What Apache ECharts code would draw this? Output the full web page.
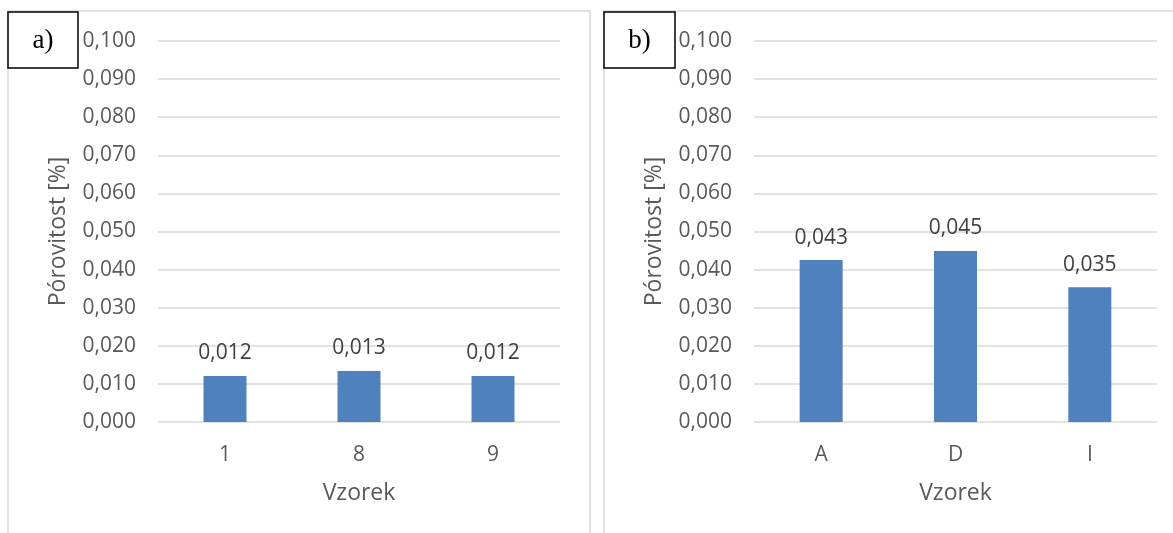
<!DOCTYPE html>
<html><head><meta charset="utf-8">
<script src="https://cdn.jsdelivr.net/npm/echarts@6/dist/echarts.min.js"></script>
<style>html,body{margin:0;padding:0;background:#fff}#c{width:1173px;height:533px}</style>
</head><body><div id="c"></div>
<script>
const categoriesA = ['1', '8', '9'];
const valuesA = [0.0121, 0.0134, 0.0121];
const categoriesB = ['A', 'D', 'I'];
const valuesB = [0.0425, 0.0449, 0.0354];
const yTicks = { min: 0, max: 0.1, interval: 0.01 };
const yName = 'Pórovitost [%]';
const xName = 'Vzorek';
const panelLabels = ['a)', 'b)'];

const fmt = v => v.toFixed(3).replace('.', ',');
const FONT = 'Open Sans';

function xAxis(idx, cats) {
  return {
    type: 'category', gridIndex: idx, data: cats,
    axisLine: { show: false }, axisTick: { show: false },
    axisLabel: { color: '#595959', fontSize: 21, fontFamily: FONT, margin: 23 },
    name: xName, nameLocation: 'middle', nameGap: 60,
    nameTextStyle: { color: '#595959', fontSize: 23, fontFamily: FONT }
  };
}
function yAxis(idx) {
  return {
    type: 'value', gridIndex: idx, min: yTicks.min, max: yTicks.max, interval: yTicks.interval,
    axisLine: { show: false }, axisTick: { show: false },
    splitLine: { lineStyle: { color: '#d9d9d9', width: 1.5 } },
    axisLabel: { color: '#595959', fontSize: 21, fontFamily: FONT, margin: 22, formatter: fmt },
    name: yName, nameLocation: 'middle', nameGap: 88,
    nameTextStyle: { color: '#595959', fontSize: 23, fontFamily: FONT }
  };
}
function series(idx, vals) {
  return {
    type: 'bar', xAxisIndex: idx, yAxisIndex: idx, data: vals, barWidth: 43,
    itemStyle: { color: '#4F81BD' },
    label: { show: true, position: 'top', distance: 12, color: '#404040', fontSize: 21, fontFamily: FONT,
      formatter: p => fmt(p.value) }
  };
}

const chart = echarts.init(document.getElementById('c'), null, { renderer: 'canvas' });
chart.setOption({
  backgroundColor: '#fff',
  animation: false,
  grid: [
    { left: 158, width: 402, top: 41, height: 381 },
    { left: 754, width: 403, top: 41, height: 381 }
  ],
  xAxis: [xAxis(0, categoriesA), xAxis(1, categoriesB)],
  yAxis: [yAxis(0), yAxis(1)],
  series: [series(0, valuesA), series(1, valuesB)],
  graphic: [
    { type: 'rect', shape: { x: 8, y: 11, width: 582, height: 540 }, style: { fill: null, stroke: '#d9d9d9', lineWidth: 1.5 }, z: 0 },
    { type: 'rect', shape: { x: 604, y: 11, width: 580, height: 540 }, style: { fill: null, stroke: '#d9d9d9', lineWidth: 1.5 }, z: 0 },
    { type: 'rect', shape: { x: 8, y: 12, width: 70, height: 56 }, style: { fill: '#fff', stroke: '#000', lineWidth: 1.5 }, z: 10 },
    { type: 'text', x: 43, y: 41, style: { text: panelLabels[0], fill: '#000', font: '27px "Liberation Serif"', align: 'center', verticalAlign: 'middle' }, z: 11 },
    { type: 'rect', shape: { x: 604, y: 12, width: 71, height: 56 }, style: { fill: '#fff', stroke: '#000', lineWidth: 1.5 }, z: 10 },
    { type: 'text', x: 639.5, y: 41, style: { text: panelLabels[1], fill: '#000', font: '27px "Liberation Serif"', align: 'center', verticalAlign: 'middle' }, z: 11 }
  ]
});
</script></body></html>
